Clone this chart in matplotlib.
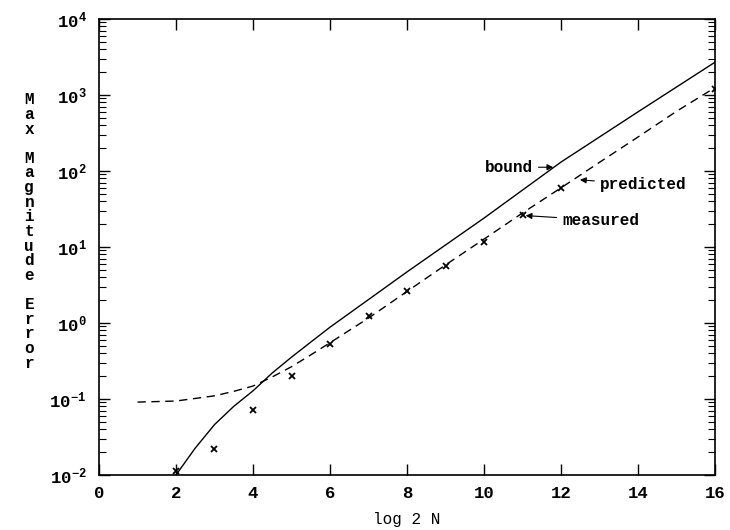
import matplotlib
matplotlib.use("Agg")
from matplotlib import pyplot as plt
from matplotlib.ticker import LogLocator, NullFormatter, MultipleLocator

plt.rcParams['font.family'] = ['Liberation Mono', 'DejaVu Sans Mono']
plt.rcParams['font.weight'] = 'bold'

# bound (solid line)
bound_x = [2, 2.5, 3, 3.5, 4, 4.5, 5, 5.5, 6, 8, 10, 12, 14, 16]
bound_y = [0.01, 0.0226, 0.046, 0.08, 0.128, 0.22, 0.355, 0.56, 0.88, 4.7, 24, 131, 600, 2700]

# predicted (dashed line)
pred_x = [1, 2, 3, 3.5, 4, 4.5, 5, 5.5, 6, 7, 8, 9, 10, 11, 12, 13, 14, 15, 16]
pred_y = [0.091, 0.094, 0.11, 0.126, 0.148, 0.195, 0.266, 0.38, 0.55, 1.16, 2.6, 5.8, 12.7,
          28, 60, 130, 280, 610, 1250]

# measured (x marks)
meas_x = [2, 3, 4, 5, 6, 7, 8, 9, 10, 11, 12, 16]
meas_y = [0.0113, 0.022, 0.0716, 0.20, 0.53, 1.24, 2.6, 5.6, 11.6, 26, 60, 1200]

ylabel = "Max Magnitude Error"

fig = plt.figure(figsize=(7.3, 5.3), dpi=100)
ax = fig.add_axes([0.1356, 0.1038, 0.8439, 0.8604])

ax.plot(bound_x, bound_y, color='black', lw=1.0)
ax.plot(pred_x, pred_y, color='black', lw=1.0, dashes=(6, 4))
ax.plot(meas_x, meas_y, ls='none', marker='x', ms=4, mew=1.3, color='black')

ax.set_yscale('log')
ax.set_xlim(0, 16)
ax.set_ylim(1e-2, 1e4)
ax.xaxis.set_major_locator(MultipleLocator(2))
ax.yaxis.set_major_locator(LogLocator(base=10, numticks=10))
ax.yaxis.set_minor_locator(LogLocator(base=10, subs=range(2, 10), numticks=20))
ax.yaxis.set_minor_formatter(NullFormatter())
ax.tick_params(which='both', direction='in', top=True, right=True, labelsize=12.5)
ax.tick_params(axis='y', which='major', pad=9)
ax.tick_params(axis='x', which='major', pad=8)
ax.tick_params(which='major', length=8, width=1)
ax.tick_params(which='minor', length=5, width=0.8)
for s in ax.spines.values():
    s.set_linewidth(1.2)

ax.set_xlabel("log 2 N", fontsize=11.5, labelpad=8)
fig.text(0.04, 0.826, "\n".join(ylabel), fontsize=11.5, va='top', ha='center',
         linespacing=0.97)

arrow = dict(arrowstyle='-|>', color='black', lw=0.8, mutation_scale=9)
ax.annotate("bound", xy=(11.87, 112), xytext=(11.27, 112), fontsize=11.5,
            ha='right', va='center', arrowprops=arrow)
ax.annotate("predicted", xy=(12.42, 77), xytext=(13.01, 66), fontsize=11.5,
            ha='left', va='center', arrowprops=arrow)
ax.annotate("measured", xy=(11.01, 26), xytext=(12.03, 22.5), fontsize=11.5,
            ha='left', va='center', arrowprops=arrow)

fig.savefig("out.png", dpi=100)
